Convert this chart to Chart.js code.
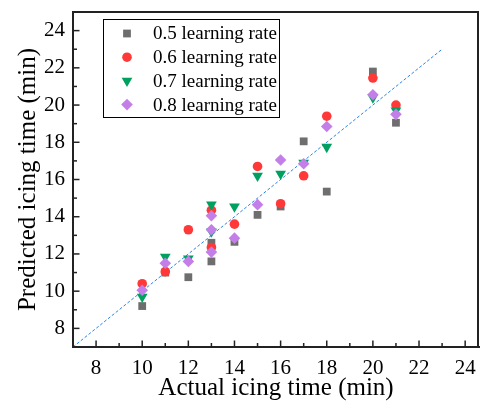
<!DOCTYPE html>
<html>
<head>
<meta charset="utf-8">
<script src="https://cdn.jsdelivr.net/npm/chart.js@4/dist/chart.umd.min.js"></script>
<style>
  body { margin: 0; background: #fff; }
  canvas { display: block; }
</style>
</head>
<body>
<canvas id="icingChart" width="480" height="403"></canvas>
<script>
// Data
const seriesNames = ["0.5 learning rate", "0.6 learning rate", "0.7 learning rate", "0.8 learning rate"];

const rate05X = [10, 11, 12, 13, 13, 14, 15, 16, 17, 18, 20, 21];
const rate05Y = [9.2, 11.0, 10.75, 12.6, 11.6, 12.65, 14.1, 14.55, 18.05, 15.35, 21.8, 19.05];

const rate06X = [10, 11, 12, 13, 13, 14, 15, 16, 17, 18, 20, 21];
const rate06Y = [10.4, 11.05, 13.3, 14.35, 12.35, 13.6, 16.7, 14.7, 16.2, 19.4, 21.45, 20.0];

const rate07X = [10, 11, 12, 13, 13, 14, 15, 16, 17, 18, 20, 21];
const rate07Y = [9.7, 11.85, 11.75, 14.65, 13.2, 14.55, 16.2, 16.3, 16.9, 17.75, 20.4, 19.7];

const rate08X = [10, 11, 12, 13, 13, 13, 14, 15, 16, 17, 18, 20, 21];
const rate08Y = [10.05, 11.5, 11.6, 14.05, 13.3, 12.1, 12.85, 14.65, 17.05, 16.85, 18.85, 20.55, 19.5];

// y = x reference line
const fitX = [7, 23];
const fitY = [7, 23];

const xTicks = [8, 10, 12, 14, 16, 18, 20, 22, 24];
const yTicks = [8, 10, 12, 14, 16, 18, 20, 22, 24];

const serif = "'Liberation Serif', 'Times New Roman', serif";
const axisColor = "#222222";

function toPoints(xs, ys) {
    return xs.map((x, i) => ({ x: x, y: ys[i] }));
}

const styles = [
    { color: "#6e6e6e", pointStyle: "rect", radius: 5.5, rotation: 0 },
    { color: "#ff3838", pointStyle: "circle", radius: 4.8, rotation: 0 },
    { color: "#00a060", pointStyle: "triangle", radius: 6.2, rotation: 180 },
    { color: "#c47ee8", pointStyle: "rectRot", radius: 5.8, rotation: 0 }
];

const seriesData = [
    toPoints(rate05X, rate05Y),
    toPoints(rate06X, rate06Y),
    toPoints(rate07X, rate07Y),
    toPoints(rate08X, rate08Y)
];

const datasets = seriesData.map((data, i) => ({
    type: "scatter",
    label: seriesNames[i],
    data: data,
    order: 4 - i,
    backgroundColor: styles[i].color,
    borderWidth: 0,
    pointStyle: styles[i].pointStyle,
    pointRadius: styles[i].radius,
    rotation: styles[i].rotation
}));

datasets.push({
    type: "line",
    label: "fit",
    data: toPoints(fitX, fitY),
    order: 10,
    borderColor: "#2f82e8",
    borderWidth: 1,
    borderDash: [3, 2],
    pointRadius: 0,
    fill: false
});

// Frame, inward tick marks and the boxed legend
const framePlugin = {
    id: "framePlugin",
    afterDraw(chart) {
        const c = chart.ctx;
        const area = chart.chartArea;
        const xs = chart.scales.x;
        const ys = chart.scales.y;
        c.save();
        c.setLineDash([]);
        c.strokeStyle = axisColor;
        c.lineWidth = 2;
        c.beginPath();
        c.moveTo(area.left, area.bottom);
        c.lineTo(area.left, area.top);
        c.lineTo(area.right - 1, area.top);
        c.lineTo(area.right - 1, area.bottom);
        c.lineTo(area.left, area.bottom);
        c.stroke();

        c.lineWidth = 1.5;
        for (let v = 8; v <= 24; v++) {
            const len = v % 2 === 0 ? 6.5 : 4;
            const px = xs.getPixelForValue(v);
            c.beginPath();
            c.moveTo(px, area.bottom);
            c.lineTo(px, area.bottom - len);
            c.stroke();
            const py = ys.getPixelForValue(v);
            c.beginPath();
            c.moveTo(area.left, py);
            c.lineTo(area.left + len, py);
            c.stroke();
        }

        // legend
        c.lineWidth = 1;
        c.strokeStyle = "#000000";
        c.fillStyle = "#ffffff";
        c.fillRect(103.5, 19.5, 176, 98);
        c.strokeRect(103.5, 19.5, 176, 98);
        c.font = "19px " + serif;
        c.textBaseline = "middle";
        seriesNames.forEach((name, i) => {
            const y = 33.5 + i * 23.7;
            c.fillStyle = styles[i].color;
            Chart.helpers.drawPoint(c, {
                pointStyle: styles[i].pointStyle,
                radius: styles[i].radius,
                rotation: styles[i].rotation,
                borderWidth: 0
            }, 127, y);
            c.fillStyle = "#000000";
            c.fillText(name, 153, y + 1);
        });
        c.restore();
    }
};

const chartCtx = document.getElementById("icingChart").getContext("2d");
new Chart(chartCtx, {
    data: { datasets: datasets },
    options: {
        responsive: false,
        animation: false,
        layout: { autoPadding: false, padding: { left: 0, top: 12, right: 1, bottom: 0 } },
        plugins: {
            legend: { display: false },
            tooltip: { enabled: false }
        },
        scales: {
            x: {
                type: "linear",
                min: 7,
                max: 24.6,
                grid: { display: false, drawTicks: false, tickLength: 0 },
                border: { display: true, color: axisColor, width: 2 },
                ticks: { color: "#000", padding: 9, font: { family: serif, size: 21 } },
                afterBuildTicks: scale => { scale.ticks = xTicks.map(v => ({ value: v })); },
                afterFit: scale => { scale.height = 56; scale.paddingLeft = 0; scale.paddingRight = 0; },
                title: {
                    display: true,
                    text: "Actual icing time (min)",
                    color: "#000",
                    padding: { top: 1, bottom: 0 },
                    font: { family: serif, size: 25 }
                }
            },
            y: {
                type: "linear",
                min: 7,
                max: 25,
                grid: { display: false, drawTicks: false, tickLength: 0 },
                border: { display: true, color: axisColor, width: 2 },
                ticks: { color: "#000", padding: 8, font: { family: serif, size: 21 } },
                afterBuildTicks: scale => { scale.ticks = yTicks.map(v => ({ value: v })); },
                afterFit: scale => { scale.width = 73; scale.paddingTop = 0; scale.paddingBottom = 0; },
                title: {
                    display: true,
                    text: "Predicted icing time (min)",
                    color: "#000",
                    padding: { top: 13, bottom: 0 },
                    font: { family: serif, size: 25 }
                }
            }
        }
    },
    plugins: [framePlugin]
});
</script>
</body>
</html>
